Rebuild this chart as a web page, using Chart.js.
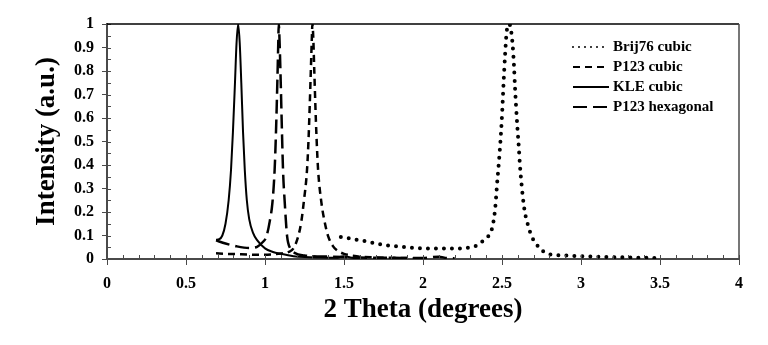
<!DOCTYPE html>
<html>
<head>
<meta charset="utf-8">
<script src="https://cdn.jsdelivr.net/npm/chart.js@4.4.1/dist/chart.umd.min.js"></script>
<style>
html,body{margin:0;padding:0;background:#fff}
canvas{display:block}
</style>
</head>
<body>
<canvas id="grafico" width="768" height="345"></canvas>
<script>
// valores
const brijX = [1.48,1.53,1.58,1.64,1.69,1.74,1.78,1.83,1.88,1.93,1.98,2.03,2.08,2.13,2.18,2.23,2.28,2.33,2.37,2.40,2.435,2.456,2.47,2.48,2.49,2.50,2.51,2.52,2.53,2.545,2.555,2.568,2.576,2.582,2.589,2.597,2.606,2.614,2.625,2.639,2.65,2.667,2.688,2.72,2.762,2.815,2.87,2.92,3.0,3.1,3.2,3.3,3.4,3.5]
const brijY = [0.094,0.088,0.082,0.075,0.068,0.061,0.057,0.054,0.051,0.048,0.046,0.045,0.045,0.045,0.045,0.045,0.048,0.054,0.072,0.089,0.125,0.21,0.33,0.41,0.50,0.61,0.75,0.875,0.97,1.0,0.983,0.905,0.82,0.734,0.65,0.564,0.479,0.394,0.309,0.224,0.181,0.139,0.096,0.061,0.032,0.018,0.016,0.014,0.012,0.01,0.008,0.007,0.005,0.004]

const p123cX = [0.69,0.75,0.8,0.85,0.9,0.95,1.0,1.05,1.1,1.15,1.18,1.21,1.23,1.245,1.266,1.275,1.283,1.29,1.296,1.30,1.305,1.312,1.319,1.326,1.336,1.357,1.38,1.40,1.43,1.46,1.5,1.55,1.6,1.7,1.8,1.9,2.0]
const p123cY = [0.024,0.022,0.021,0.02,0.019,0.018,0.018,0.02,0.023,0.03,0.045,0.096,0.16,0.24,0.38,0.5,0.65,0.8,0.93,1.0,0.95,0.8,0.65,0.52,0.38,0.24,0.15,0.096,0.055,0.035,0.022,0.015,0.01,0.007,0.005,0.004,0.003]

const kleX = [0.69,0.71,0.73,0.75,0.77,0.785,0.797,0.81,0.82,0.83,0.84,0.85,0.861,0.872,0.885,0.90,0.925,0.95,1.0,1.05,1.1,1.18,1.25,1.35,1.45,1.5,1.55,1.6]
const kleY = [0.082,0.084,0.1,0.15,0.25,0.38,0.54,0.75,0.92,1.0,0.92,0.75,0.54,0.38,0.25,0.17,0.11,0.08,0.045,0.03,0.022,0.012,0.008,0.006,0.005,0.012,0.005,0.003]

const p123hX = [0.69,0.75,0.82,0.90,0.95,0.98,1.009,1.03,1.047,1.061,1.07,1.078,1.084,1.087,1.092,1.10,1.107,1.114,1.125,1.14,1.16,1.19,1.25,1.3,1.4,1.5,1.6,1.8,2.0,2.1,2.15,2.2]
const p123hY = [0.079,0.066,0.054,0.047,0.052,0.068,0.096,0.16,0.24,0.38,0.55,0.75,0.92,1.0,0.93,0.74,0.55,0.38,0.24,0.096,0.045,0.025,0.015,0.012,0.01,0.008,0.006,0.005,0.004,0.01,0.004,0.003]

const xTickLabels = ['0','0.5','1','1.5','2','2.5','3','3.5','4']
const yTickLabels = ['0','0.1','0.2','0.3','0.4','0.5','0.6','0.7','0.8','0.9','1']

const fuente = '"Liberation Serif", "Times New Roman", serif'
const gris = '#4a4a4a'

function puntos(xs, ys) {
    return xs.map((x, i) => ({x: x, y: ys[i]}))
}

// marcas menores, borde superior/derecho y leyenda
const marcoPlugin = {
    id: 'marco',
    afterDraw(chart) {
        const {ctx, chartArea: a, scales: {x, y}} = chart
        ctx.save()
        ctx.strokeStyle = gris
        ctx.lineWidth = 1
        ctx.beginPath()
        for (let i = 0; i <= 40; i++) {
            let px = Math.round(x.getPixelForValue(i / 10)) + 0.5
            ctx.moveTo(px, a.bottom)
            ctx.lineTo(px, a.bottom - 4)
        }
        for (let i = 0; i <= 20; i++) {
            let py = Math.round(y.getPixelForValue(i / 20)) + 0.5
            ctx.moveTo(a.left, py)
            ctx.lineTo(a.left + 4, py)
        }
        ctx.stroke()

        ctx.lineWidth = 1.5
        ctx.strokeStyle = '#000'
        ctx.beginPath()
        ctx.moveTo(a.left, a.top)
        ctx.lineTo(a.right, a.top)
        ctx.stroke()
        ctx.strokeStyle = gris
        ctx.beginPath()
        ctx.moveTo(a.right, a.top)
        ctx.lineTo(a.right, a.bottom)
        ctx.stroke()

        // leyenda
        ctx.font = 'bold 15px ' + fuente
        ctx.textBaseline = 'middle'
        ctx.fillStyle = '#000'
        chart.data.datasets.forEach((ds, i) => {
            let ly = 47 + i * 20
            ctx.beginPath()
            ctx.strokeStyle = ds.borderColor
            ctx.lineWidth = Math.min(ds.borderWidth, 2)
            ctx.lineCap = ds.borderCapStyle || 'butt'
            ctx.setLineDash(ds.legendDash || ds.borderDash || [])
            ctx.moveTo(573, ly)
            ctx.lineTo(609, ly)
            ctx.stroke()
            ctx.fillText(ds.label, 613, ly)
        })
        ctx.restore()
    }
}

let grafico = new Chart(document.getElementById('grafico'), {
    type: 'line',
    data: {
        datasets: [
            {
                label: 'Brij76 cubic',
                data: puntos(brijX, brijY),
                borderColor: '#000',
                borderWidth: 4,
                borderDash: [0, 8],
                legendDash: [0, 6],
                borderCapStyle: 'round'
            },
            {
                label: 'P123 cubic',
                data: puntos(p123cX, p123cY),
                borderColor: '#000',
                borderWidth: 2.5,
                borderDash: [7, 5]
            },
            {
                label: 'KLE cubic',
                data: puntos(kleX, kleY),
                borderColor: '#000',
                borderWidth: 2
            },
            {
                label: 'P123 hexagonal',
                data: puntos(p123hX, p123hY),
                borderColor: '#000',
                borderWidth: 2.5,
                borderDash: [14, 6]
            }
        ]
    },
    options: {
        responsive: false,
        animation: false,
        devicePixelRatio: 1,
        layout: {padding: {top: 24, right: 29, left: 0, bottom: 0}},
        elements: {
            point: {radius: 0},
            line: {cubicInterpolationMode: 'monotone', fill: false}
        },
        plugins: {
            legend: {display: false},
            tooltip: {enabled: false}
        },
        scales: {
            x: {
                type: 'linear',
                min: 0,
                max: 4,
                afterFit: s => { s.height = 86 },
                border: {color: gris, width: 2},
                grid: {drawOnChartArea: false, tickLength: 6, color: gris},
                ticks: {
                    stepSize: 0.5,
                    padding: 9,
                    maxRotation: 0,
                    color: '#000',
                    font: {family: fuente, size: 16, weight: 'bold'},
                    callback: (v, i) => xTickLabels[i]
                },
                title: {
                    display: true,
                    text: '2 Theta (degrees)',
                    color: '#000',
                    font: {family: fuente, size: 27, weight: 'bold'},
                    padding: {top: 0, bottom: 19}
                }
            },
            y: {
                min: 0,
                max: 1,
                afterFit: s => { s.width = 107 },
                border: {color: gris, width: 2},
                grid: {drawOnChartArea: false, tickLength: 5, color: gris},
                ticks: {
                    stepSize: 0.1,
                    padding: 8,
                    color: '#000',
                    font: {family: fuente, size: 16, weight: 'bold'},
                    callback: (v, i) => yTickLabels[i]
                },
                title: {
                    display: true,
                    text: 'Intensity (a.u.)',
                    color: '#000',
                    font: {family: fuente, size: 27, weight: 'bold'},
                    padding: {top: 31, bottom: 0}
                }
            }
        }
    },
    plugins: [marcoPlugin]
})
</script>
</body>
</html>
